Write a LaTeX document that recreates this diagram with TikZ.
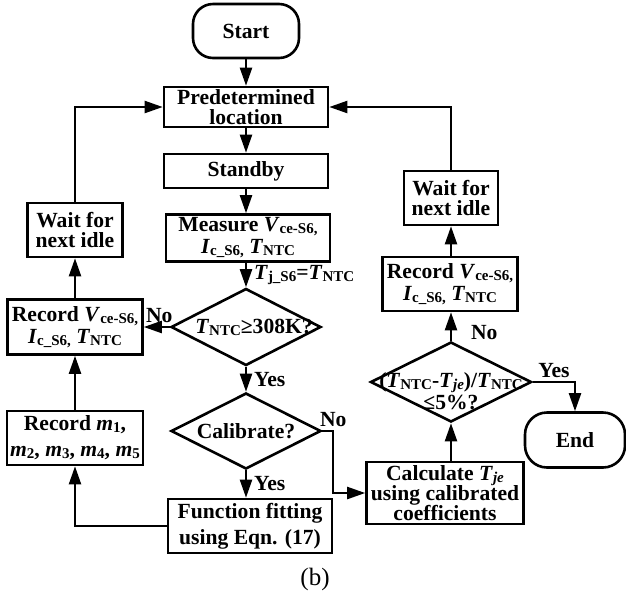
\documentclass[tikz,border=0pt]{standalone}
\usepackage{fontspec}
\setmainfont{Liberation Serif}
\usepackage{tikz}
\usetikzlibrary{arrows.meta, shapes.geometric}
\definecolor{FlowLine}{HTML}{000000}
\newcommand{\lowtxt}[1]{\raisebox{-1pt}{\fontsize{7.5}{7.5}\selectfont #1}}
\tikzset{
  termnode/.style={draw=FlowLine, rectangle, rounded corners=10pt, line width=1.3pt,
                   inner sep=1pt, font=\bfseries\fontsize{10.8}{11}\selectfont},
  procnode/.style={draw=FlowLine, rectangle, line width=1.3pt, inner sep=1pt,
                   align=center, font=\bfseries\fontsize{10.8}{11}\selectfont},
  decnode/.style={draw=FlowLine, diamond, line width=1.3pt, inner sep=0pt,
                  minimum width=75pt, minimum height=38.5pt},
  dectext/.style={align=center, font=\bfseries\fontsize{10.8}{11}\selectfont},
  edgelabel/.style={inner sep=1.5pt, font=\bfseries\fontsize{10.8}{11}\selectfont},
  arrowstd/.style={-{Triangle[length=9pt, width=6pt]}, line width=1.1pt, draw=FlowLine}
}

\begin{document}
\begin{tikzpicture}[x=0.5pt, y=-0.5pt]
  \useasboundingbox (0,0) rectangle (626,596);

  \node[termnode, minimum width=53pt, minimum height=27pt] (start) at (246,31) {Start};
  \node[procnode, minimum width=82pt, minimum height=20pt] (predet) at (246,107) {Predetermined\\[-1pt]location};
  \node[procnode, minimum width=82pt, minimum height=17pt] (standby) at (246,171) {Standby};
  \node[procnode, minimum width=82pt, minimum height=23.5pt] (measure) at (248,238)
       {Measure \textit{V}\lowtxt{ce-S6,}\\\textit{I}\lowtxt{c\_S6,} \textit{T}\lowtxt{NTC}};
  \node[decnode, label={[dectext, xshift=4pt]center:\textit{T}\lowtxt{NTC}≥308K?}] (tcheck) at (246,327) {};
  \node[decnode, minimum height=38pt, label={[dectext]center:Calibrate?}] (calib) at (246,431) {};
  \node[procnode, minimum width=82pt, minimum height=27pt] (fit) at (250,526) {Function fitting\\[2pt]using Eqn. (17)};

  \node[procnode, minimum width=47.5pt, minimum height=27pt] (waitl) at (75,230) {Wait for\\[-1pt]next idle};
  \node[procnode, minimum width=67.5pt, minimum height=27.5pt] (recl) at (75,327)
       {Record \textit{V}\lowtxt{ce-S6,}\\\textit{I}\lowtxt{c\_S6,} \textit{T}\lowtxt{NTC}};
  \node[procnode, minimum width=68pt, minimum height=27pt] (recm) at (75,438)
       {Record \textit{m}\lowtxt{1},\\[2pt]\textit{m}\lowtxt{2}, \textit{m}\lowtxt{3}, \textit{m}\lowtxt{4}, \textit{m}\lowtxt{5}};

  \node[procnode, minimum width=47pt, minimum height=27pt] (waitr) at (451,198) {Wait for\\[-1pt]next idle};
  \node[procnode, minimum width=67.5pt, minimum height=27pt] (recr) at (450,284)
       {Record \textit{V}\lowtxt{ce-S6,}\\\textit{I}\lowtxt{c\_S6,} \textit{T}\lowtxt{NTC}};
  \node[decnode, minimum width=80.5pt, minimum height=40pt,
        label={[dectext, yshift=-4.5pt]center:(\textit{T}\lowtxt{NTC}-\textit{T}\lowtxt{\textit{je}})/\textit{T}\lowtxt{NTC}\\≤5\%?}] (errcheck) at (451,382) {};
  \node[procnode, minimum width=78.5pt, minimum height=31pt] (calc) at (445,493)
       {Calculate \textit{T}\lowtxt{\textit{je}}\\[-1pt]using calibrated\\[-1pt]coefficients};
  \node[termnode, minimum width=50pt, minimum height=27.5pt, rounded corners=11pt] (end) at (575,440) {End};

  \node[font=\fontsize{12.5}{13}\selectfont] (caption) at (315,579) {(b)};

  \draw[arrowstd] (start) -- (predet);
  \draw[arrowstd] (predet) -- (standby);
  \draw[arrowstd] (standby) -- (standby |- measure.north);
  \draw[arrowstd] (tcheck.north |- measure.south) -- node[edgelabel, right, xshift=2pt]
       {\textit{T}\lowtxt{j\_S6}=\textit{T}\lowtxt{NTC}} (tcheck.north);
  \draw[arrowstd] (tcheck.west) -- node[edgelabel, above, pos=0.4] {No} (recl.east);
  \draw[arrowstd] (tcheck) -- node[edgelabel, right, xshift=2pt] {Yes} (calib);
  \draw[arrowstd] (calib.south) -- node[edgelabel, right, xshift=2pt] {Yes} (calib.south |- fit.north);
  \draw[arrowstd] (calib.east) -- ++(11,0) node[edgelabel, above] {No} |- (calc.west);
  \draw[arrowstd] (fit.west) -| (recm.south);
  \draw[arrowstd] (recm) -- (recl);
  \draw[arrowstd] (recl) -- (waitl);
  \draw[arrowstd] (waitl.north) |- (predet.west);
  \draw[arrowstd] (calc.north -| errcheck.south) -- (errcheck.south);
  \draw[arrowstd] (errcheck.north) -- node[edgelabel, right, pos=0.3, xshift=8pt] {No} (recr.south -| errcheck.north);
  \draw[arrowstd] (recr.north -| waitr.south) -- (waitr.south);
  \draw[arrowstd] (waitr.north) |- (predet.east);
  \draw[arrowstd] (errcheck.east) -| node[edgelabel, above, pos=0.25] {Yes} (end.north);
\end{tikzpicture}
\end{document}
